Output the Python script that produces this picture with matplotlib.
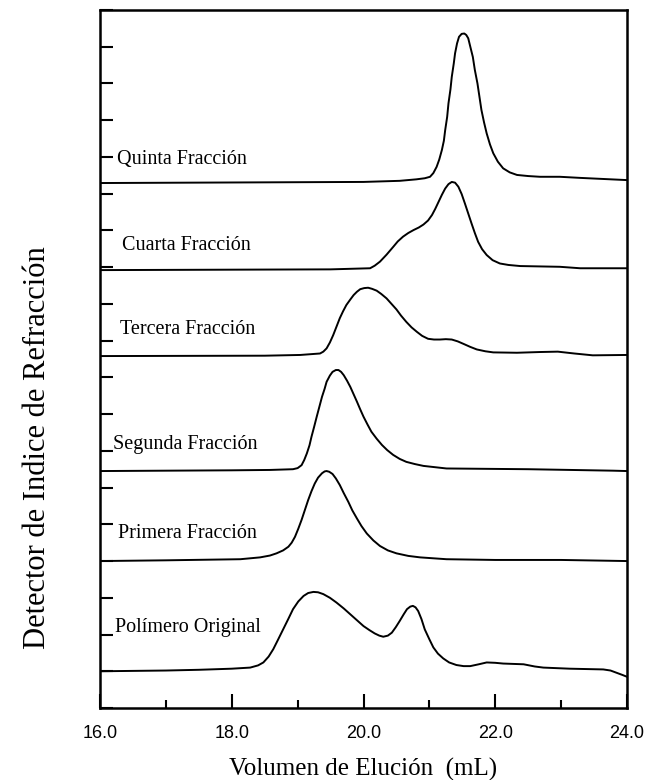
import numpy as np
import matplotlib
matplotlib.use("Agg")
from matplotlib import pyplot as plt
from matplotlib.ticker import MultipleLocator

# traces, from bottom to top
labels = ["Polímero Original", "Primera Fracción", "Segunda Fracción",
          "Tercera Fracción", "Cuarta Fracción", "Quinta Fracción"]
baselines = [1.0, 4.0, 6.45, 9.58, 11.92, 14.29]

# elution volume (mL) and detector signal above baseline
x_orig = [16.0, 17.0, 17.5, 18.0, 18.28, 18.4, 18.48, 18.56, 18.63, 18.7, 18.78, 18.86, 18.93,
          19.01, 19.09, 19.16, 19.24, 19.31, 19.39, 19.49, 19.59, 19.7, 19.8, 19.9, 20.0,
          20.09, 20.17, 20.24, 20.3, 20.37, 20.43, 20.49, 20.55, 20.61, 20.66, 20.71, 20.75,
          20.79, 20.83, 20.88, 20.93, 21.0, 21.06, 21.13, 21.21, 21.3, 21.41, 21.52, 21.62,
          21.75, 21.87, 22.0, 22.12, 22.43, 22.6, 22.73, 23.13, 23.64, 23.75, 23.84, 23.93, 24.0]
h_orig = [0.0, 0.02, 0.04, 0.07, 0.10, 0.16, 0.24, 0.40, 0.60, 0.85, 1.14, 1.43, 1.69,
          1.90, 2.05, 2.13, 2.16, 2.15, 2.10, 2.00, 1.87, 1.71, 1.55, 1.39, 1.23,
          1.12, 1.03, 0.97, 0.94, 0.97, 1.05, 1.20, 1.37, 1.55, 1.69, 1.76, 1.78,
          1.74, 1.64, 1.42, 1.14, 0.87, 0.65, 0.48, 0.35, 0.24, 0.17, 0.14, 0.14,
          0.19, 0.24, 0.23, 0.21, 0.19, 0.13, 0.10, 0.07, 0.05, 0.02, -0.04, -0.10, -0.15]

x_prim = [16.0, 17.0, 18.13, 18.43, 18.58, 18.68, 18.78, 18.86, 18.91, 18.96, 19.01, 19.06,
          19.11, 19.16, 19.21, 19.26, 19.31, 19.37, 19.41, 19.44, 19.48, 19.53, 19.58, 19.64,
          19.7, 19.77, 19.83, 19.9, 19.97, 20.05, 20.15, 20.25, 20.37, 20.5, 20.68, 20.86,
          21.26, 22.0, 23.0, 24.0]
h_prim = [0.0, 0.02, 0.05, 0.10, 0.15, 0.21, 0.29, 0.39, 0.50, 0.66, 0.88, 1.12,
          1.39, 1.66, 1.90, 2.11, 2.27, 2.39, 2.44, 2.45, 2.43, 2.37, 2.25, 2.07,
          1.85, 1.61, 1.38, 1.16, 0.95, 0.75, 0.56, 0.41, 0.29, 0.21, 0.14, 0.10,
          0.05, 0.03, 0.03, 0.0]

x_seg = [16.0, 18.0, 18.58, 18.93, 19.0, 19.06, 19.1, 19.14, 19.18, 19.21, 19.25, 19.29,
         19.33, 19.37, 19.41, 19.44, 19.49, 19.53, 19.58, 19.62, 19.66, 19.7, 19.75, 19.8,
         19.85, 19.9, 19.95, 20.0, 20.06, 20.12, 20.2, 20.28, 20.36, 20.45, 20.55, 20.65,
         20.78, 20.91, 21.26, 22.5, 23.79, 24.0]
h_seg = [0.0, 0.02, 0.03, 0.05, 0.08, 0.16, 0.30, 0.48, 0.70, 0.93, 1.20, 1.48,
         1.75, 2.02, 2.24, 2.43, 2.60, 2.70, 2.75, 2.75, 2.70, 2.61, 2.46, 2.29,
         2.09, 1.89, 1.68, 1.48, 1.27, 1.07, 0.88, 0.71, 0.57, 0.44, 0.33, 0.25,
         0.19, 0.14, 0.07, 0.05, 0.01, 0.0]

x_terc = [16.0, 18.5, 19.04, 19.34, 19.39, 19.44, 19.49, 19.54, 19.59, 19.64, 19.69, 19.74,
          19.8, 19.85, 19.9, 19.95, 20.01, 20.07, 20.13, 20.2, 20.27, 20.35, 20.42, 20.5,
          20.57, 20.65, 20.73, 20.81, 20.89, 20.98, 21.07, 21.16, 21.25, 21.34, 21.43, 21.52,
          21.62, 21.72, 21.85, 21.97, 22.33, 22.68, 22.95, 23.2, 23.48, 24.0]
h_terc = [0.0, 0.01, 0.03, 0.07, 0.12, 0.21, 0.37, 0.57, 0.80, 1.03, 1.22, 1.39,
          1.54, 1.66, 1.75, 1.82, 1.85, 1.86, 1.83, 1.78, 1.69, 1.57, 1.43, 1.27,
          1.10, 0.93, 0.78, 0.66, 0.55, 0.47, 0.45, 0.45, 0.46, 0.45, 0.40, 0.33,
          0.25, 0.18, 0.13, 0.10, 0.09, 0.11, 0.12, 0.07, 0.02, 0.03]

x_cuar = [16.0, 19.5, 20.1, 20.17, 20.25, 20.35, 20.45, 20.52, 20.6, 20.68, 20.76, 20.84,
          20.91, 20.98, 21.04, 21.09, 21.14, 21.19, 21.24, 21.29, 21.34, 21.39, 21.44, 21.49,
          21.54, 21.59, 21.64, 21.69, 21.74, 21.8, 21.87, 21.96, 22.07, 22.2, 22.38, 22.98,
          23.29, 24.0]
h_cuar = [0.0, 0.02, 0.05, 0.12, 0.23, 0.42, 0.63, 0.78, 0.91, 1.01, 1.09, 1.16,
          1.24, 1.35, 1.50, 1.67, 1.86, 2.05, 2.22, 2.34, 2.40, 2.38, 2.27, 2.07,
          1.81, 1.54, 1.27, 1.01, 0.77, 0.57, 0.41, 0.27, 0.18, 0.14, 0.11, 0.09,
          0.05, 0.05]

x_quin = [16.0, 20.0, 20.55, 20.8, 20.93, 21.01, 21.06, 21.11, 21.15, 21.19, 21.22, 21.24,
          21.27, 21.29, 21.32, 21.34, 21.37, 21.39, 21.42, 21.45, 21.49, 21.53, 21.56, 21.59,
          21.62, 21.66, 21.69, 21.73, 21.76, 21.79, 21.83, 21.87, 21.92, 21.97, 22.04, 22.12,
          22.22, 22.33, 22.5, 22.68, 22.98, 23.29, 24.0]
h_quin = [0.0, 0.03, 0.06, 0.10, 0.13, 0.17, 0.27, 0.44, 0.64, 0.90, 1.15, 1.44,
          1.80, 2.17, 2.55, 2.89, 3.25, 3.53, 3.80, 3.98, 4.06, 4.07, 4.03, 3.94,
          3.72, 3.43, 3.08, 2.71, 2.35, 1.99, 1.65, 1.35, 1.05, 0.81, 0.58, 0.40,
          0.29, 0.22, 0.19, 0.17, 0.17, 0.14, 0.08]

xs = [x_orig, x_prim, x_seg, x_terc, x_cuar, x_quin]
hs = [h_orig, h_prim, h_seg, h_terc, h_cuar, h_quin]

label_x = [16.23, 16.27, 16.2, 16.3, 16.33, 16.26]
label_y = [2.18, 4.76, 7.16, 10.29, 12.60, 14.92]

serif = ["Liberation Serif", "DejaVu Serif"]

fig = plt.figure(figsize=(6.57, 7.8), dpi=100)
ax = fig.add_axes([100/657, 72/780, 527/657, 698/780])

for x, h, b in zip(xs, hs, baselines):
    ax.plot(x, b + np.array(h), color="black", lw=1.4, solid_joinstyle="round")

for lab, lx, ly in zip(labels, label_x, label_y):
    ax.text(lx, ly, lab, family=serif, fontsize=14.5, va="center", ha="left")

ax.set_xlim(16, 24)
ax.set_ylim(0, 19)
ax.xaxis.set_major_locator(MultipleLocator(2))
ax.xaxis.set_minor_locator(MultipleLocator(1))
ax.xaxis.set_major_formatter(lambda v, p: "%.1f" % v)
ax.yaxis.set_major_locator(MultipleLocator(1))
ax.set_yticklabels([])
ax.tick_params(axis="x", which="major", direction="in", length=10, width=1.5, pad=12)
ax.tick_params(axis="x", which="minor", direction="in", length=6, width=1.5)
ax.tick_params(axis="y", direction="in", length=9, width=1.5)
for t in ax.get_xticklabels():
    t.set_family(["Liberation Sans", "DejaVu Sans"])
    t.set_fontsize(13)
for s in ax.spines.values():
    s.set_linewidth(1.8)

ax.set_xlabel("Volumen de Elución  (mL)", family=serif, fontsize=18, labelpad=12)
fig.text(38/657, 332/780, "Detector de Indice de Refracción", family=serif, fontsize=22,
         rotation=90, ha="center", va="center")

fig.savefig("out.png", dpi=100)
